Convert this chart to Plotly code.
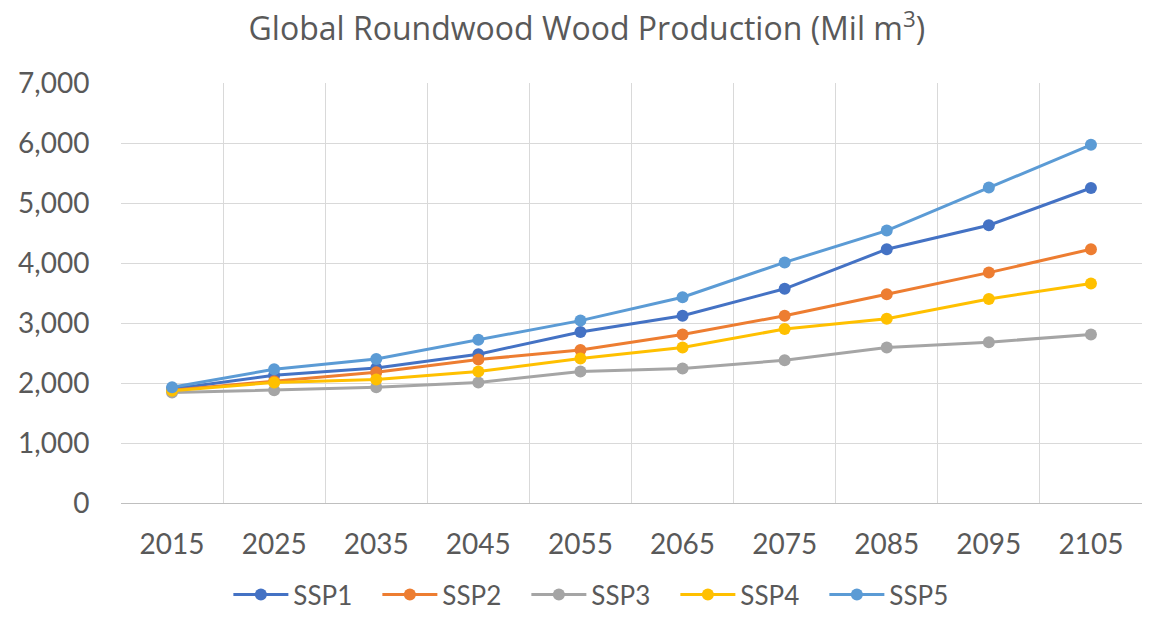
import plotly.graph_objects as go

# Decade steps of the projection
years = ["2015", "2025", "2035", "2045", "2055", "2065", "2075", "2085", "2095", "2105"]

# Global roundwood production by scenario (million m3)
ssp1 = [1900, 2130, 2250, 2480, 2850, 3120, 3570, 4230, 4630, 5250]
ssp2 = [1880, 2030, 2180, 2390, 2550, 2810, 3120, 3480, 3840, 4230]
ssp3 = [1840, 1880, 1930, 2010, 2190, 2240, 2380, 2590, 2680, 2810]
ssp4 = [1870, 2010, 2060, 2190, 2410, 2590, 2900, 3070, 3400, 3660]
ssp5 = [1930, 2230, 2400, 2720, 3040, 3430, 4010, 4540, 5260, 5970]

series_names = ["SSP1", "SSP2", "SSP3", "SSP4", "SSP5"]
series_values = [ssp1, ssp2, ssp3, ssp4, ssp5]
series_colors = ["#4472C4", "#ED7D31", "#A5A5A5", "#FFC000", "#5B9BD5"]

y_ticks = [0, 1000, 2000, 3000, 4000, 5000, 6000, 7000]

FONT = "Lato"
TEXT = "#595959"

fig = go.Figure()
for name, vals, col in zip(series_names, series_values, series_colors):
    fig.add_trace(go.Scatter(
        x=years, y=vals, name=name, mode="lines+markers",
        line=dict(color=col, width=3),
        marker=dict(color=col, size=12),
    ))

fig.update_layout(
    width=1153, height=618,
    paper_bgcolor="white", plot_bgcolor="white",
    margin=dict(l=121, r=11, t=83, b=115, autoexpand=False),
    font=dict(family=FONT, color=TEXT),
    title=dict(
        text="Global Roundwood Wood Production (Mil m<sup>3</sup>)",
        x=0.509, xref="container", xanchor="center",
        y=0.953, yref="container", yanchor="middle",
        font=dict(family="Open Sans", size=32, color=TEXT),
    ),
    showlegend=True,
    legend=dict(
        orientation="h", x=0.47, xanchor="center",
        y=-0.012, yref="container", yanchor="bottom",
        font=dict(family=FONT, size=26, color=TEXT),
        itemwidth=55,
        entrywidth=79, entrywidthmode="pixels",
        bgcolor="rgba(0,0,0,0)",
    ),
)

fig.update_xaxes(
    type="category", categoryorder="array", categoryarray=years,
    range=[-0.5, len(years) - 0.5],
    tickson="boundaries",
    showgrid=True, gridcolor="#D9D9D9", gridwidth=1.3,
    showline=True, linecolor="#BFBFBF", linewidth=1.3,
    ticks="", ticklabelstandoff=16,
    tickfont=dict(family=FONT, size=28, color=TEXT),
    zeroline=False,
)
fig.update_yaxes(
    range=[0, 7000], tickvals=y_ticks, tickformat=",d",
    showgrid=True, gridcolor="#D9D9D9", gridwidth=1.3,
    showline=False, zeroline=False,
    ticks="outside", ticklen=25, tickcolor="rgba(0,0,0,0)",
    tickfont=dict(family=FONT, size=28, color=TEXT),
)

fig.write_html("out.html")
